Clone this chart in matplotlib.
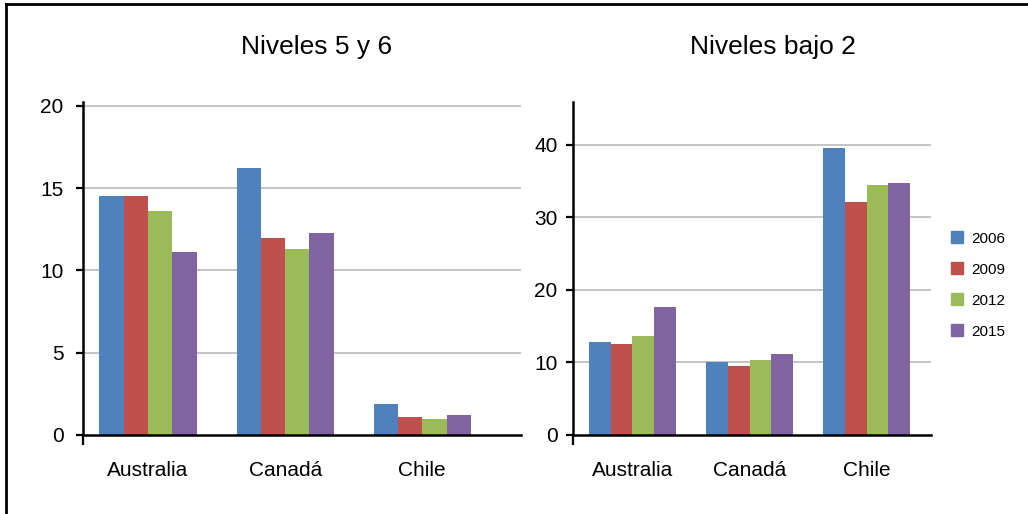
import matplotlib
matplotlib.use("Agg")
import matplotlib.pyplot as plt
import numpy as np
from matplotlib.lines import Line2D

plt.rcParams['font.family'] = ['Liberation Sans', 'DejaVu Sans']

categories = ["Australia", "Canadá", "Chile"]
years = ["2006", "2009", "2012", "2015"]
colors = ["#4F81BD", "#C0504D", "#9BBB59", "#8064A2"]

# Niveles 5 y 6
top_2006 = [14.5, 16.2, 1.9]
top_2009 = [14.5, 12.0, 1.1]
top_2012 = [13.6, 11.3, 1.0]
top_2015 = [11.1, 12.3, 1.2]

# Niveles bajo 2
low_2006 = [12.8, 10.0, 39.6]
low_2009 = [12.6, 9.5, 32.1]
low_2012 = [13.7, 10.4, 34.5]
low_2015 = [17.6, 11.2, 34.8]

left_ticks = [0, 5, 10, 15, 20]
right_ticks = [0, 10, 20, 30, 40]

W, H = 1028, 514
fig = plt.figure(figsize=(W / 100, H / 100), dpi=100)


def px_axes(x0, x1, ybot, ytop):
    return fig.add_axes([x0 / W, 1 - ybot / H, (x1 - x0) / W, (ybot - ytop) / H])


def draw(ax, series, ticks, ylim, xlim, width, ypad):
    x = np.arange(len(categories))
    for i, (vals, c, lab) in enumerate(zip(series, colors, years)):
        ax.bar(x + (i - 1.5) * width, vals, width=width, color=c, label=lab,
               linewidth=0, zorder=3)
    ax.set_xlim(*xlim)
    ax.set_ylim(*ylim)
    ax.set_yticks(ticks)
    ax.set_yticklabels([str(t) for t in ticks], fontsize=15)
    ax.set_xticks(x)
    ax.set_xticklabels(categories, fontsize=15, stretch='condensed')
    ax.tick_params(axis='x', which='major', length=0, pad=19)
    ax.set_xticks([xlim[0]], minor=True)
    ax.tick_params(axis='x', which='minor', length=7.5, width=1.6,
                   direction='out', color='black')
    ax.tick_params(axis='y', length=5, width=1.6, direction='out',
                   pad=ypad, color='black')
    for t in ticks[1:]:
        ax.axhline(t, color='#BFBFBF', lw=1.3, zorder=1)
    for s in ['top', 'right']:
        ax.spines[s].set_visible(False)
    for s in ['left', 'bottom']:
        ax.spines[s].set_linewidth(1.8)
        ax.spines[s].set_color('black')
        ax.spines[s].set_zorder(4)


ax1 = px_axes(83, 521, 435, 102)
draw(ax1, [top_2006, top_2009, top_2012, top_2015], left_ticks,
     (0, 20.24), (-0.474, 2.72), 0.177, 9)

ax2 = px_axes(573, 931, 435, 102)
draw(ax2, [low_2006, low_2009, low_2012, low_2015], right_ticks,
     (0, 45.9), (-0.508, 2.55), 0.186, 6)

fig.text(317 / W, 1 - 47 / H, "Niveles 5 y 6", fontsize=19, ha='center', va='center')
fig.text(773 / W, 1 - 47 / H, "Niveles bajo 2", fontsize=19, ha='center', va='center')

handles = [plt.Rectangle((0, 0), 1, 1, color=c) for c in colors]
fig.legend(handles, years, loc='center left', bbox_to_anchor=(951 / W, 1 - 285 / H),
           frameon=False, fontsize=11, handlelength=0.8, handleheight=0.8,
           handletextpad=0.55, labelspacing=1.1, borderpad=0, borderaxespad=0)

# outer border (top and left edges)
fig.add_artist(Line2D([6 / W, 1], [1 - 4 / H, 1 - 4 / H], color='black', lw=2,
                      transform=fig.transFigure))
fig.add_artist(Line2D([6 / W, 6 / W], [0, 1 - 4 / H], color='black', lw=2,
                      transform=fig.transFigure))

fig.savefig("out.png", dpi=100)
